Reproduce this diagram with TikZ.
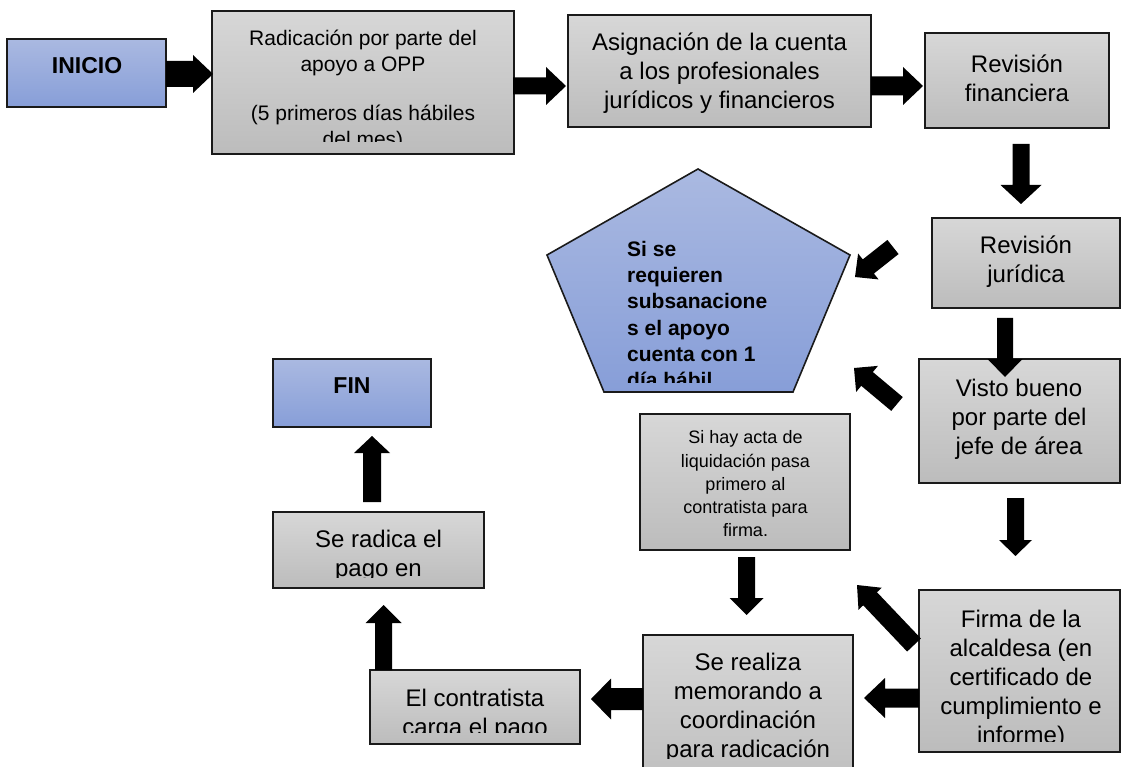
\documentclass[tikz,border=0pt]{standalone}
\usepackage{fontspec}
\setmainfont{Liberation Sans}
\usetikzlibrary{calc,fit}
\definecolor{boxtop}{HTML}{D7D7D7}
\definecolor{boxbot}{HTML}{BCBCBC}
\definecolor{bluetop}{HTML}{AAB9E1}
\definecolor{bluebot}{HTML}{879ED8}
\definecolor{edge}{HTML}{1A1A1A}
\tikzset{
  graybox/.style={draw=edge, line width=1.6pt, inner sep=0pt, top color=boxtop, bottom color=boxbot},
  bluebox/.style={draw=edge, line width=1.6pt, inner sep=0pt, top color=bluetop, bottom color=bluebot},
  bigtxt/.style={inner sep=0pt, align=center, font=\fontsize{24}{29}\selectfont},
  midtxt/.style={inner sep=0pt, align=center, font=\fontsize{21}{26}\selectfont},
  smalltxt/.style={inner sep=0pt, align=center, font=\fontsize{18}{23.25}\selectfont},
  boldtxt/.style={inner sep=0pt, align=center, font=\fontsize{23}{27}\selectfont\bfseries},
  penttxt/.style={inner sep=0pt, align=left, font=\fontsize{21}{26.3}\selectfont\bfseries},
  arrowfill/.style={fill=black},
}
% block arrow: #1 tail, #2 tip, #3 shaft half width, #4 head half width, #5 head length
\newcommand\blockarrow[5]{%
  \path ($(#2)!#5!(#1)$) coordinate (ba-base);
  \fill[arrowfill] ($(#1)!#3!90:(#2)$) -- ($(ba-base)!#3!90:(#2)$) -- ($(ba-base)!#4!90:(#2)$)
    -- (#2) -- ($(ba-base)!#4!-90:(#2)$) -- ($(ba-base)!#3!-90:(#2)$) -- ($(#1)!#3!-90:(#2)$) -- cycle;
}
\begin{document}
\begin{tikzpicture}[x=1pt,y=-1pt]
\useasboundingbox (0,0) rectangle (1122,767);
\fill[white] (0,0) rectangle (1122,767);

% ---------- boxes ----------
\node[bluebox, fit={(7,39) (166,107)}] (inicio) {};
\node[boldtxt] (inicioT) at (87,65.5) {INICIO};

\node[graybox, fit={(212,11) (514,154)}] (radic) {};
\begin{scope}
  \clip (212,11) rectangle (514,142);
  \node[midtxt] (radicT) at (363,90) {Radicación por parte del\\apoyo a OPP\\[23pt](5 primeros días hábiles\\del mes)};
\end{scope}

\node[graybox, fit={(568,15) (871,127)}] (asig) {};
\node[bigtxt] (asigT) at (719.5,73.5) {Asignación de la cuenta\\a los profesionales\\jurídicos y financieros};

\node[graybox, fit={(925,33) (1109,128)}] (revfin) {};
\node[bigtxt] (revfinT) at (1017,78) {Revisión\\financiera};

\node[graybox, fit={(932,218) (1120,308)}] (revjur) {};
\node[bigtxt] (revjurT) at (1026,262) {Revisión\\jurídica};

\node[graybox, fit={(919,359) (1120,483)}] (visto) {};
\node[bigtxt] (vistoT) at (1019,419) {Visto bueno\\por parte del\\jefe de área};

\node[graybox, fit={(919,590) (1120,752)}] (firma) {};
\begin{scope}
  \clip (919,590) rectangle (1120,741);
  \node[bigtxt] (firmaT) at (1021,679) {Firma de la\\alcaldesa (en\\certificado de\\cumplimiento e\\informe)};
\end{scope}

\node[graybox, fit={(643,635) (853,800)}] (realiza) {};
\begin{scope}
  \clip (643,635) rectangle (853,758);
  \node[bigtxt] (realizaT) at (748,708) {Se realiza\\memorando a\\coordinación\\para radicación};
\end{scope}

\node[graybox, fit={(640,414) (850,550)}] (acta) {};
\node[smalltxt] (actaT) at (745.5,484) {Si hay acta de\\liquidación pasa\\primero al\\contratista para\\firma.};

\node[graybox, fit={(370,670) (580,744)}] (contr) {};
\begin{scope}
  \clip (370,670) rectangle (580,732);
  \node[bigtxt] (contrT) at (475,715) {El contratista\\carga el pago};
\end{scope}

\node[graybox, fit={(273,512) (484,588)}] (radica) {};
\begin{scope}
  \clip (273,512) rectangle (484,577);
  \node[bigtxt] (radicaT) at (378.5,556) {Se radica el\\pago en};
\end{scope}

\node[bluebox, fit={(273,359) (431,427)}] (fin) {};
\node[boldtxt] (finT) at (352,385.5) {FIN};

% pentagon
\coordinate (p1) at (698,169);
\coordinate (p2) at (850,255);
\coordinate (p3) at (793,392);
\coordinate (p4) at (604,392);
\coordinate (p5) at (547,255);
\draw[draw=edge, line width=1.6pt, top color=bluetop, bottom color=bluebot] (p1) -- (p2) -- (p3) -- (p4) -- (p5) -- cycle;
\begin{scope}
  \clip (560,200) rectangle (840,382.5);
  \node[penttxt, anchor=west] (pentT) at (627,314.5) {Si se\\requieren\\subsanacione\\s el apoyo\\cuenta con 1\\día hábil};
\end{scope}

% ---------- arrows ----------
\coordinate (a1s) at (166,74);    \coordinate (a1e) at (213,74);
\coordinate (a2s) at (513,86);    \coordinate (a2e) at (566,86);
\coordinate (a3s) at (871,86);    \coordinate (a3e) at (923,86);
\coordinate (a4s) at (1021,144);  \coordinate (a4e) at (1021,204);
\coordinate (a5s) at (1005,318);  \coordinate (a5e) at (1005,377);
\coordinate (a6s) at (1015.5,498);\coordinate (a6e) at (1015.5,556);
\coordinate (a7s) at (919,698);   \coordinate (a7e) at (864,698);
\coordinate (a8s) at (643,699);   \coordinate (a8e) at (591,699);
\coordinate (a9s) at (383.5,670); \coordinate (a9e) at (383.5,605);
\coordinate (a10s) at (372,502);  \coordinate (a10e) at (372,436);
\coordinate (a11s) at (746.5,557);\coordinate (a11e) at (746.5,615);
\coordinate (a12s) at (914,645);  \coordinate (a12e) at (857,585);
\coordinate (a13s) at (893,247);  \coordinate (a13e) at (855,277);
\coordinate (a14s) at (897,404);  \coordinate (a14e) at (854,368);

\blockarrow{a1s}{a1e}{13pt}{19pt}{20pt}
\blockarrow{a2s}{a2e}{8.5pt}{19pt}{20pt}
\blockarrow{a3s}{a3e}{9.5pt}{19pt}{20pt}
\blockarrow{a4s}{a4e}{8.5pt}{20.5pt}{19pt}
\blockarrow{a5s}{a5e}{8pt}{17.5pt}{18pt}
\blockarrow{a6s}{a6e}{8.5pt}{16.5pt}{16pt}
\blockarrow{a7s}{a7e}{9.5pt}{20pt}{21pt}
\blockarrow{a8s}{a8e}{11pt}{20.5pt}{20pt}
\blockarrow{a9s}{a9e}{8.5pt}{18pt}{18pt}
\blockarrow{a10s}{a10e}{9pt}{18pt}{17pt}
\blockarrow{a11s}{a11e}{8.5pt}{17pt}{17pt}
\blockarrow{a12s}{a12e}{9.5pt}{16pt}{19pt}
\blockarrow{a13s}{a13e}{9pt}{16.5pt}{17pt}
\blockarrow{a14s}{a14e}{9pt}{17pt}{17pt}
\end{tikzpicture}
\end{document}
